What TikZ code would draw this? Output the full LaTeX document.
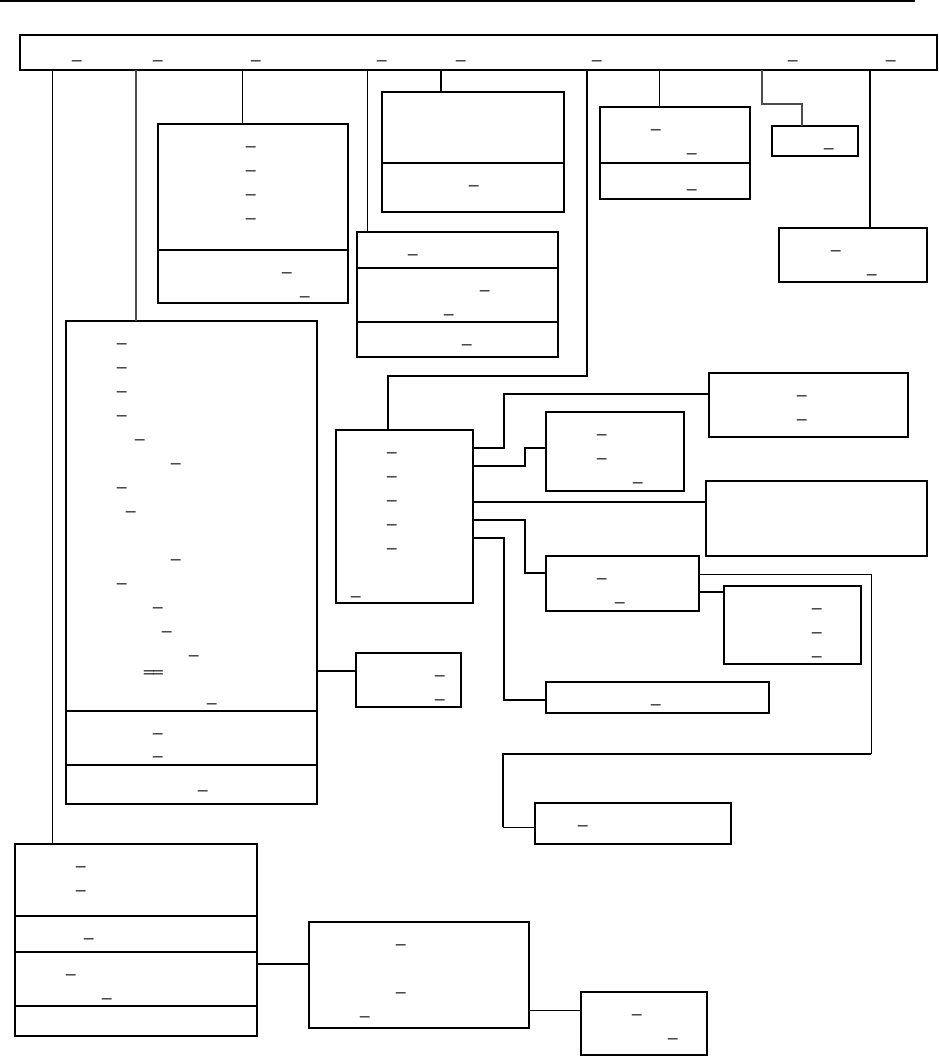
\documentclass[tikz,border=0pt]{standalone}
\usepackage{fontspec}
\setmainfont{Liberation Sans}
\newcommand\usfont{\fontsize{17}{17}\selectfont}
\newcommand\mkbox[6][box]{\node[#1,minimum width=#4-#2,minimum height=#5-#3] (#6) at (#2,#3) {};}
\newcommand\sepline[3][sep]{\draw[#1] (#2.west |- 0,#3) -- (#2.east |- 0,#3);}
\begin{document}
\begin{tikzpicture}[x=1pt,y=-1pt,
  box/.style={draw,line width=2pt,inner sep=0pt,outer sep=0pt,anchor=north west},
  thinbox/.style={box,line width=1.2pt},
  us/.style={anchor=south west,inner sep=0pt,outer sep=0pt,font=\usfont},
  wire/.style={line width=2pt},
  thinwire/.style={line width=1pt},
  graywire/.style={line width=1.5pt,draw=black!70},
  sep/.style={line width=2pt},
  thinsep/.style={line width=1.2pt}]
\useasboundingbox (0,0) rectangle (938,1056);
\draw[line width=2.5pt] (0,1) -- (915,1);

% boxes
\mkbox{20}{35}{937}{70}{top}
\mkbox{15}{844}{257}{1036}{bl}
\sepline{bl}{916}\sepline{bl}{952}\sepline{bl}{1006}
\mkbox{66}{321}{317}{804}{big}
\sepline{big}{711}\sepline{big}{765}
\mkbox{356}{653}{461}{707}{small}
\mkbox{158}{124}{348}{303}{bb}
\sepline{bb}{250}
\mkbox{357}{232}{558}{357}{bd}
\sepline{bd}{268}\sepline{bd}{322}
\mkbox{382}{92}{564}{212}{be}
\sepline[thinsep]{be}{163}
\mkbox{336}{430}{473}{603}{mid}
\mkbox{709}{373}{908}{437}{ba}
\mkbox{546}{412}{684}{491}{bbb}
\mkbox{706}{481}{927}{556}{bc}
\mkbox{546}{556}{699}{611}{bdd}
\mkbox{724}{586}{861}{664}{bee}
\mkbox[thinbox]{535}{803}{731}{844}{bf}
\mkbox{546}{682}{769}{713}{bg}
\mkbox{600}{107}{750}{199}{bs}
\sepline[thinsep]{bs}{163}
\mkbox{772}{126}{858}{156}{bt}
\mkbox[thinbox]{779}{228}{927}{282}{bn}
\mkbox{309}{922}{529}{1028}{bh}
\mkbox[thinbox]{581}{992}{707}{1055}{bi}

% connectors from top box
\draw[thinwire] (top.south -| 52,0) -- (bl.north -| 52,0);
\draw[graywire] (top.south -| 136,0) -- (big.north -| 136,0);
\draw[thinwire] (top.south -| 242,0) -- (bb.north -| 242,0);
\draw[thinwire] (top.south -| 367,0) -- (bd.north -| 367,0);
\draw[wire] (top.south -| 441,0) -- (be.north -| 441,0);
\draw[line width=1.5pt] (top.south -| 587,0) -- (587,376) -| (mid.north -| 388,0);
\draw[thinwire] (top.south -| 659,0) -- (bs.north -| 659,0);
\draw[graywire] (top.south -| 762,0) |- (802,104) -- (bt.north -| 802,0);
\draw[line width=2.5pt] (top.south -| 870,0) -- (bn.north -| 870,0);

% connectors from mid box
\draw[wire] (mid.east |- 0,448) -| (504,394) -- (ba.west |- 0,394);
\draw[wire] (mid.east |- 0,466) -| (525,448) -- (bbb.west |- 0,448);
\draw[wire] (mid.east |- 0,502) -- (bc.west |- 0,502);
\draw[wire] (mid.east |- 0,520) -| (525,573) -- (bdd.west |- 0,573);
\draw[wire] (mid.east |- 0,538) -| (504,700) -- (bg.west |- 0,700);
\draw[wire] (bdd.east |- 0,592) -- (bee.west |- 0,592);
\draw[thinwire] (bdd.east |- 0,574) -| (871,754);
\draw[wire] (871,754) -| (503,827);
\draw[thinwire] (503,827) -- (bf.west |- 0,827);
\draw[wire] (big.east |- 0,671) -- (small.west |- 0,671);
\draw[wire] (bl.east |- 0,964) -- (bh.west |- 0,964);
\draw[thinwire] (bh.east |- 0,1010) -- (bi.west |- 0,1010);

% underscores
\foreach [count=\i] \x/\y in {72/61,153/61,251/61,377/61,456/61,592/61,788/61,886/61}
  \node[us] (ut\i) at (\x,\y+0.6) {\_};
\foreach [count=\i] \x/\y in {246/147,246/171,246/195,246/219,282/273,300/297}
  \node[us] (ubb\i) at (\x,\y+0.6) {\_};
\foreach [count=\i] \x/\y in {408/255,480/291,444/315,462/345}
  \node[us] (ubd\i) at (\x,\y+0.6) {\_};
\node[us] (ube1) at (469,186.6) {\_};
\foreach [count=\i] \x/\y in {651/130,687/154,687/190}
  \node[us] (ubs\i) at (\x,\y+0.6) {\_};
\node[us] (ubt1) at (824,149.6) {\_};
\foreach [count=\i] \x/\y in {831/251,867/275}
  \node[us] (ubn\i) at (\x,\y+0.6) {\_};
\foreach [count=\i] \x/\y in {117/344,117/368,117/392,117/416,135/440,171/464,117/488,126/512,171/560,117/584,153/608,162/632,189/656,207/704,153/734,153/757,198/791}
  \node[us] (ubig\i) at (\x,\y+0.6) {\_};
\node[us] (ubigd) at (144,674.4) {\_\_\llap{\raisebox{2.5pt}{\_\_}}};
\foreach [count=\i] \x/\y in {435/676,435/700}
  \node[us] (usm\i) at (\x,\y+0.6) {\_};
\foreach [count=\i] \x/\y in {387/453,387/477,387/501,387/525,387/549,351/597}
  \node[us] (umid\i) at (\x,\y+0.6) {\_};
\foreach [count=\i] \x/\y in {797/396,797/420}
  \node[us] (uba\i) at (\x,\y+0.6) {\_};
\foreach [count=\i] \x/\y in {597/435,597/459,633/483}
  \node[us] (ubbb\i) at (\x,\y+0.6) {\_};
\foreach [count=\i] \x/\y in {597/579,615/603}
  \node[us] (ubdd\i) at (\x,\y+0.6) {\_};
\foreach [count=\i] \x/\y in {812/609,812/633,812/657}
  \node[us] (ubee\i) at (\x,\y+0.6) {\_};
\node[us] (ubf1) at (578,826.6) {\_};
\node[us] (ubg1) at (651,705.6) {\_};
\foreach [count=\i] \x/\y in {76/867,76/891,84/939,66/975,102/999}
  \node[us] (ubl\i) at (\x,\y+0.6) {\_};
\foreach [count=\i] \x/\y in {396/945,396/993,360/1017}
  \node[us] (ubh\i) at (\x,\y+0.6) {\_};
\foreach [count=\i] \x/\y in {632/1015,668/1039}
  \node[us] (ubi\i) at (\x,\y+0.6) {\_};
\end{tikzpicture}
\end{document}
